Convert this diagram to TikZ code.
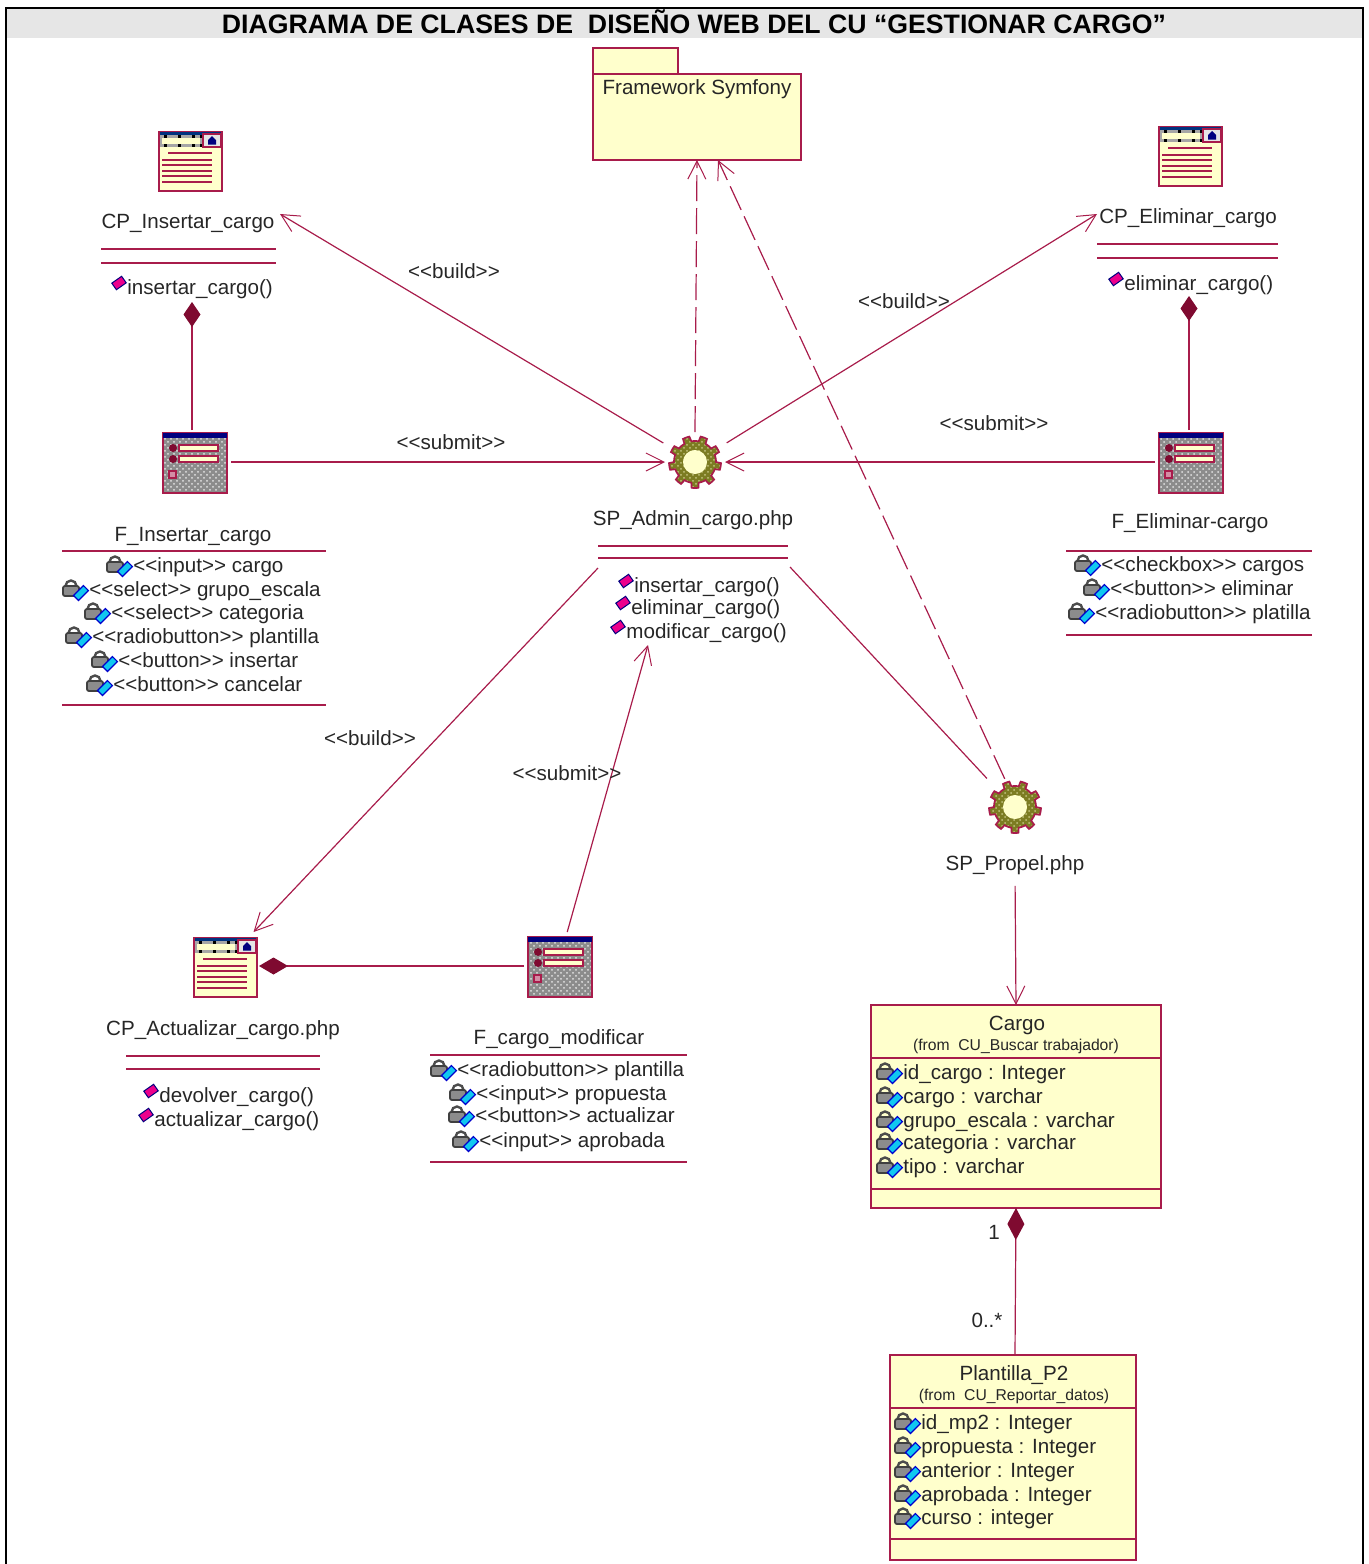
\documentclass[tikz,border=0pt]{standalone}
\usepackage{fontspec}
\setmainfont{Liberation Sans}
\usepackage{tikz}
\usetikzlibrary{arrows.meta, patterns, shapes.geometric}

\definecolor{roseline}{HTML}{A81C4B}
\definecolor{wine}{HTML}{7F0A30}
\definecolor{cream}{HTML}{FFFFCC}
\definecolor{titlegray}{HTML}{E6E6E6}
\definecolor{formgray}{HTML}{8C8C8C}
\definecolor{gearolive}{HTML}{7C7C22}
\definecolor{tagcyan}{HTML}{10C8F0}
\definecolor{navyblue}{HTML}{00007F}

\newcommand{\stereo}[1]{<{}<#1>{}>}

\tikzset{
    umlline/.style={draw=roseline, line width=0.6pt},
    iconline/.style={draw=roseline, line width=0.85pt},
    umlarrow/.style={umlline, -{Straight Barb[length=9pt, width=9pt, line width=0.5pt]}},
    umldashed/.style={umlarrow, dash pattern=on 13pt off 3.5pt},
    umlcomp/.style={umlline, -{Diamond[length=#1, width=8.5pt, fill=wine, color=wine]}},
    umlbox/.style={umlline, fill=cream, inner sep=0pt, outer sep=0pt},
    iconbox/.style={minimum width=32pt, minimum height=30pt, inner sep=0pt, outer sep=2pt},
    gearbox/.style={circle, minimum size=30pt, inner sep=0pt, outer sep=0pt},
    txt/.style={inner sep=0pt, text=black!85, text height=8pt, text depth=1.5pt, font=\fontsize{10.3}{12}\selectfont},
    smalltxt/.style={inner sep=0pt, text=black!85, font=\fontsize{7.85}{9}\selectfont},
    rowtxt/.style={txt, anchor=west},
    pageicon/.pic={
        \draw[iconline, fill=cream] (-31,-28) rectangle (32,31);
        \fill[navyblue!60!teal] (-30,-28) rectangle (31,-25.5);
        \fill[black!35] (-30,-25) rectangle (13,-13);
        \fill[cream] (-28,-22.5) rectangle (10,-16.5);
        \foreach \tickx in {-26,-12,2,10} {\fill[black] (\tickx,-25) rectangle +(2.5,3); \fill[black] (\tickx,-16) rectangle +(2.5,3);}
        \draw[iconline, fill=white!90!black] (13,-26) rectangle (31,-13);
        \fill[navyblue] (22,-24) -- (26,-20) -- (26,-15.5) -- (18,-15.5) -- (18,-20) -- cycle;
        \draw[iconline] (-22,-7) -- (22,-7);
        \foreach \liney in {0,5,11,16,22} {\draw[iconline] (-28,\liney) -- (22,\liney);}
    },
    formicon/.pic={
        \draw[iconline, preaction={fill=formgray}, pattern=crosshatch dots, pattern color=white!75!formgray] (-32,-29) rectangle (32,31);
        \fill[navyblue] (-32,-29.5) rectangle (32,-24);
        \foreach \rowy in {-14,-3} {
            \fill[wine] (-22,\rowy) circle (4);
            \draw[iconline, fill=cream] (-16,\rowy-3) rectangle (23,\rowy+3);
        }
        \draw[iconline, fill=white!50!roseline] (-26,9) rectangle (-19,16);
    },
    gearicon/.pic={
        \draw[iconline, preaction={fill=gearolive}, pattern=crosshatch dots, pattern color=cream!55!gearolive]
            plot[samples=145, domain=0:360] (\x:{21+5*(sin(9*\x)>0)}) -- cycle;
        \fill[cream] (0,0) circle (12);
    },
    lockmark/.pic={
        \draw[black!70, line width=1.2pt] (-23.5,-4) arc[start angle=180, end angle=360, radius=5.5];
        \draw[black!75, fill=black!45, line width=0.9pt, rounded corners=1pt] (-26,-4) rectangle (-10,6);
        \draw[blue!80!black, fill=tagcyan, line width=0.6pt, rotate around={45:(-8,3)}] (-8,3) ++(-7,-3.5) rectangle ++(14,7);
    },
    opmark/.pic={
        \draw[navyblue, line width=0.5pt, fill=magenta, rotate around={35:(-8,-5)}] (-8,-5) ++(-6,-4) rectangle ++(12,8);
    },
}

\begin{document}
\begin{tikzpicture}[x=0.5pt, y=-0.5pt, >=Straight Barb]
    \useasboundingbox (0,0) rectangle (1369,1564);
    \fill[titlegray] (7,9) rectangle (1363,38);
    \draw[black, line width=0.8pt] (6,1564) -- (6,8) -- (1363,8) -- (1363,1564);
    \node[inner sep=0pt, font=\bfseries\fontsize{13.34}{16}\selectfont] (title) at (694,21.5) {DIAGRAMA DE CLASES DE\ \ DISEÑO WEB DEL CU “GESTIONAR CARGO”};

    \node[umlbox, minimum width=42.5pt, minimum height=13pt] (frameworkTab) at (635.5,61) {};
    \node[umlbox, minimum width=104pt, minimum height=43pt] (framework) at (697,117) {};
    \node[txt] (frameworkName) at (697,88) {Framework Symfony};

    \node[iconbox] (cpInsertar) at (190,160) {};
    \pic at (cpInsertar) {pageicon};
    \node[txt] (cpInsertarName) at (188,222) {CP\_Insertar\_cargo};
    \draw[umlline] (101,249) -- (276,249) (101,263) -- (276,263);
    \node[rowtxt] (opInsertar) at (127,288) {insertar\_cargo()};
    \pic at (opInsertar.west) {opmark};

    \node[iconbox] (cpEliminar) at (1190,155) {};
    \pic at (cpEliminar) {pageicon};
    \node[txt] (cpEliminarName) at (1188,217) {CP\_Eliminar\_cargo};
    \draw[umlline] (1097,244) -- (1278,244) (1097,258) -- (1278,258);
    \node[rowtxt] (opEliminar) at (1124,284) {eliminar\_cargo()};
    \pic at (opEliminar.west) {opmark};

    \node[iconbox] (fInsertar) at (195,462) {};
    \pic at (fInsertar) {formicon};
    \node[txt] (fInsertarName) at (193,535) {F\_Insertar\_cargo};
    \draw[umlline] (62,551) -- (326,551) (62,705) -- (326,705);
    \foreach \rowid/\rowx/\rowy/\rowtext in {
        fiCargo/133/566/{\stereo{input} cargo},
        fiGrupo/89/590/{\stereo{select} grupo\_escala},
        fiCategoria/111/613/{\stereo{select} categoria},
        fiPlantilla/92/637/{\stereo{radiobutton} plantilla},
        fiInsertar/118/661/{\stereo{button} insertar},
        fiCancelar/113/685/{\stereo{button} cancelar}} {
        \node[rowtxt] (\rowid) at (\rowx,\rowy) {\rowtext};
        \pic at (\rowid.west) {lockmark};
    }

    \node[iconbox] (fEliminar) at (1191,462) {};
    \pic at (fEliminar) {formicon};
    \node[txt] (fEliminarName) at (1190,522) {F\_Eliminar-cargo};
    \draw[umlline] (1066,551) -- (1312,551) (1066,635) -- (1312,635);
    \foreach \rowid/\rowx/\rowy/\rowtext in {
        feCargos/1101/565/{\stereo{checkbox} cargos},
        feEliminar/1110/589/{\stereo{button} eliminar},
        fePlatilla/1095/613/{\stereo{radiobutton} platilla}} {
        \node[rowtxt] (\rowid) at (\rowx,\rowy) {\rowtext};
        \pic at (\rowid.west) {lockmark};
    }

    \node[gearbox] (spAdmin) at (695,462) {};
    \pic at (spAdmin) {gearicon};
    \node[txt] (spAdminName) at (693,519) {SP\_Admin\_cargo.php};
    \draw[umlline] (598,546) -- (788,546) (598,558) -- (788,558);
    \foreach \rowid/\rowx/\rowy/\rowtext in {
        adInsertar/634/586/{insertar\_cargo()},
        adEliminar/631/608/{eliminar\_cargo()},
        adModificar/626/632/{modificar\_cargo()}} {
        \node[rowtxt] (\rowid) at (\rowx,\rowy) {\rowtext};
        \pic at (\rowid.west) {opmark};
    }
    \coordinate (adminLeft) at (598,568);
    \coordinate (adminRight) at (790,567);
    \coordinate (adminBelow) at (648,645);

    \node[gearbox] (spPropel) at (1015,807) {};
    \pic at (spPropel) {gearicon};
    \node[txt] (spPropelName) at (1015,864) {SP\_Propel.php};

    \node[iconbox] (cpActualizar) at (225,966) {};
    \pic at (cpActualizar) {pageicon};
    \node[txt] (cpActualizarName) at (223,1029) {CP\_Actualizar\_cargo.php};
    \draw[umlline] (126,1056) -- (320,1056) (126,1069) -- (320,1069);
    \foreach \rowid/\rowx/\rowy/\rowtext in {
        acDevolver/159/1096/{devolver\_cargo()},
        acActualizar/154/1120/{actualizar\_cargo()}} {
        \node[rowtxt] (\rowid) at (\rowx,\rowy) {\rowtext};
        \pic at (\rowid.west) {opmark};
    }

    \node[iconbox] (fModificar) at (560,966) {};
    \pic at (fModificar) {formicon};
    \node[txt] (fModificarName) at (559,1038) {F\_cargo\_modificar};
    \draw[umlline] (430,1055) -- (687,1055) (430,1162) -- (687,1162);
    \foreach \rowid/\rowx/\rowy/\rowtext in {
        fmPlantilla/457/1070/{\stereo{radiobutton} plantilla},
        fmPropuesta/476/1094/{\stereo{input} propuesta},
        fmActualizar/475/1116/{\stereo{button} actualizar},
        fmAprobada/479/1141/{\stereo{input} aprobada}} {
        \node[rowtxt] (\rowid) at (\rowx,\rowy) {\rowtext};
        \pic at (\rowid.west) {lockmark};
    }

    \node[umlbox, minimum width=145pt, minimum height=101.5pt] (cargo) at (1016,1106.5) {};
    \node[txt] (cargoName) at (1017,1024) {Cargo};
    \node[smalltxt] (cargoFrom) at (1016,1046) {(from\ \ CU\_Buscar trabajador)};
    \draw[umlline] (871,1058) -- (1161,1058) (871,1189) -- (1161,1189);
    \foreach \rowid/\rowx/\rowy/\rowtext in {
        caId/903/1073/{id\_cargo : Integer},
        caCargo/903/1097/{cargo : varchar},
        caGrupo/903/1121/{grupo\_escala : varchar},
        caCategoria/903/1143/{categoria : varchar},
        caTipo/903/1167/{tipo : varchar}} {
        \node[rowtxt] (\rowid) at (\rowx,\rowy) {\rowtext};
        \pic at (\rowid.west) {lockmark};
    }

    \node[umlbox, minimum width=123pt, minimum height=102.5pt] (plantilla) at (1013,1457.5) {};
    \node[txt] (plantillaName) at (1014,1374) {Plantilla\_P2};
    \node[smalltxt] (plantillaFrom) at (1014,1396) {(from\ \ CU\_Reportar\_datos)};
    \draw[umlline] (890,1408) -- (1136,1408) (890,1539) -- (1136,1539);
    \foreach \rowid/\rowx/\rowy/\rowtext in {
        plId/921/1423/{id\_mp2 : Integer},
        plPropuesta/921/1447/{propuesta : Integer},
        plAnterior/921/1471/{anterior : Integer},
        plAprobada/921/1495/{aprobada : Integer},
        plCurso/921/1518/{curso : integer}} {
        \node[rowtxt] (\rowid) at (\rowx,\rowy) {\rowtext};
        \pic at (\rowid.west) {lockmark};
    }

    \coordinate (cpInsertarTip) at (280,214);
    \coordinate (cpEliminarTip) at (1097,214);
    \coordinate (frameworkRight) at (718,160);
    \coordinate (fInsertarTop) at (192,430);
    \coordinate (cpInsertarDiamond) at (192,302);
    \coordinate (fEliminarTop) at (1189,430);
    \coordinate (cpEliminarDiamond) at (1189,296);
    \coordinate (cargoBottom) at (1016,1208);
    \coordinate (plantillaTop) at (1015,1355);

    \path[every edge/.style={umlarrow}]
    (spAdmin.149) edge[shorten <=3.5pt] (cpInsertarTip)
    (spAdmin.31) edge[shorten <=3.5pt] (cpEliminarTip)
    (fInsertar.east) edge (spAdmin.west)
    (fEliminar.west) edge (spAdmin.east)
    (adminLeft) edge (cpActualizar.50)
    (fModificar.78) edge (adminBelow)
    (spPropelName.south) edge[shorten <=6pt] (cargo.north);
    \path[every edge/.style={umldashed}]
    (spAdmin.north) edge (framework.south)
    (spPropel.110) edge (frameworkRight);
    \draw[umlline, shorten >=5pt] (adminRight) -- (spPropel.135);
    \path (fInsertarTop) edge[umlcomp=12.5pt] (cpInsertarDiamond)
    (fEliminarTop) edge[umlcomp=12.5pt] (cpEliminarDiamond)
    (fModificar.west) edge[umlcomp=14.5pt, shorten >=-1pt] (cpActualizar.east)
    (plantillaTop) edge[umlcomp=16pt] (cargoBottom);

    \node[txt] (buildInsertar) at (454,272) {\stereo{build}};
    \node[txt] (buildEliminar) at (904,302) {\stereo{build}};
    \node[txt] (submitInsertar) at (451,443) {\stereo{submit}};
    \node[txt] (submitEliminar) at (994,424) {\stereo{submit}};
    \node[txt] (buildActualizar) at (370,739) {\stereo{build}};
    \node[txt] (submitModificar) at (567,774) {\stereo{submit}};
    \node[txt] (multOne) at (994,1233) {1};
    \node[txt] (multMany) at (987,1321) {0..*};
\end{tikzpicture}
\end{document}
